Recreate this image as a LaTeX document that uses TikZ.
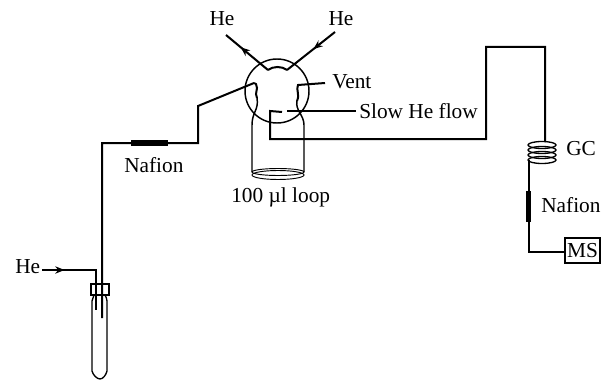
\documentclass[tikz,border=0pt]{standalone}
\usepackage{fontspec}
\setmainfont{Liberation Serif}
\usetikzlibrary{arrows.meta,decorations.markings}
\tikzset{x=0.75pt,y=-0.75pt,
 pipe/.style={draw=black,line width=1.5pt,line join=miter},
 thinpipe/.style={draw=black,line width=1.1pt},
 lab/.style={font=\fontsize{16}{18}\selectfont,inner sep=0pt,anchor=west},
 nafion/.style={draw=black,line width=4.2pt},
 midarrow/.style={postaction={decorate},decoration={markings,mark=at position #1 with {\arrow{Stealth[length=7pt,width=5.5pt]}}}}}
\begin{document}
\begin{tikzpicture}
\useasboundingbox (0,0) rectangle (609,381);
\fill[white] (0,0) rectangle (609,381);
\coordinate (c) at (277,91);
\coordinate (heLa) at (226,35);
\coordinate (heLb) at (268,70);
\coordinate (heRa) at (335,32);
\coordinate (heRb) at (287,70);
\node[circle,draw,line width=1.1pt,minimum size=48pt,inner sep=0pt] (valve) at (c) {};
\draw[pipe,midarrow=0.65] (heLb) -- (heLa);
\draw[pipe,midarrow=0.45] (heRa) -- (heRb);
\draw[pipe] (heLb) .. controls (273,66) and (282,66) .. (heRb);
\coordinate (p1) at (254,83);
\coordinate (p2) at (257,98);
\coordinate (a1) at (198,106);
\coordinate (a2) at (198,143);
\coordinate (a3) at (102,143);
\coordinate (a4) at (102,318);
\draw[pipe] (p1) -- (a1) -- (a2) -- (a3) -- (a4);
\draw[pipe] (p1) -- (256,84) .. controls (259,90) and (254,92) .. (p2);
\draw[nafion] (131,143) -- (168,143);
\coordinate (v1) at (298,85);
\coordinate (v2) at (325,83);
\draw[pipe] (v2) -- (v1) .. controls (296,92) and (300,94) .. (297,101);
\coordinate (s1) at (287,111);
\coordinate (s2) at (356,111);
\draw[pipe] (s1) -- (s2);
\coordinate (l1) at (282,112);
\coordinate (l2) at (270,111);
\coordinate (l3) at (270,139);
\coordinate (l4) at (486,139);
\coordinate (l5) at (486,47);
\coordinate (l6) at (545,47);
\coordinate (l7) at (545,142);
\draw[pipe] (l1) -- (l2) -- (l3) -- (l4) -- (l5) -- (l6) -- (l7);
\draw[thinpipe] (257,98) .. controls (259,110) and (252,112) .. (252,125) -- (252,172);
\draw[thinpipe] (297,101) .. controls (295,110) and (304,115) .. (304,125) -- (304,172);
\draw[line width=0.7pt] (278,172) ellipse [x radius=26,y radius=3.5];
\draw[line width=0.7pt] (278,175) ellipse [x radius=26,y radius=4.5];
\draw[line width=1pt] (542,145) ellipse [x radius=14,y radius=3.5];
\draw[line width=1pt] (542,150) ellipse [x radius=14,y radius=3.5];
\draw[line width=1pt] (542,155) ellipse [x radius=14,y radius=3.5];
\draw[line width=1pt] (542,160) ellipse [x radius=14,y radius=3.5];
\coordinate (n1) at (528.5,160);
\coordinate (n2) at (528.5,252);
\node[draw,line width=1.1pt,minimum width=26pt,minimum height=18.75pt,inner sep=0pt] (ms) at (582.5,250.5) {};
\draw[pipe] (n1) -- (n2) -- (ms.west |- n2);
\draw[nafion] (528.5,191) -- (528.5,222);
\node[inner sep=0pt,font=\fontsize{16}{18}\selectfont] at (ms.center) {MS};
\draw[line width=1pt] (91,284) rectangle (109,295);
\draw[line width=1pt] (94,295) .. controls (94,298) and (92,298) .. (92,301) -- (92,371) .. controls (93,375) and (97,379) .. (100,379) .. controls (103,379) and (106,375) .. (107,371) -- (107,301) .. controls (107,298) and (106,298) .. (105,295);
\coordinate (h1) at (42,270);
\coordinate (h2) at (96,270);
\coordinate (h3) at (96,310);
\draw[line width=1.3pt,midarrow=0.24] (h1) -- (h2) -- (h3);
\node[lab,anchor=center] at (222,19) {He};
\node[lab,anchor=center] at (341,19) {He};
\node[lab] at (332,82) {Vent};
\node[lab] at (359,111) {Slow He flow};
\node[lab] at (124,165) {Nafion};
\node[lab] at (231,197) {100 µl loop};
\node[lab] at (566,149) {GC};
\node[lab] at (541,205) {Nafion};
\node[lab] at (15,267) {He};
\end{tikzpicture}
\end{document}
